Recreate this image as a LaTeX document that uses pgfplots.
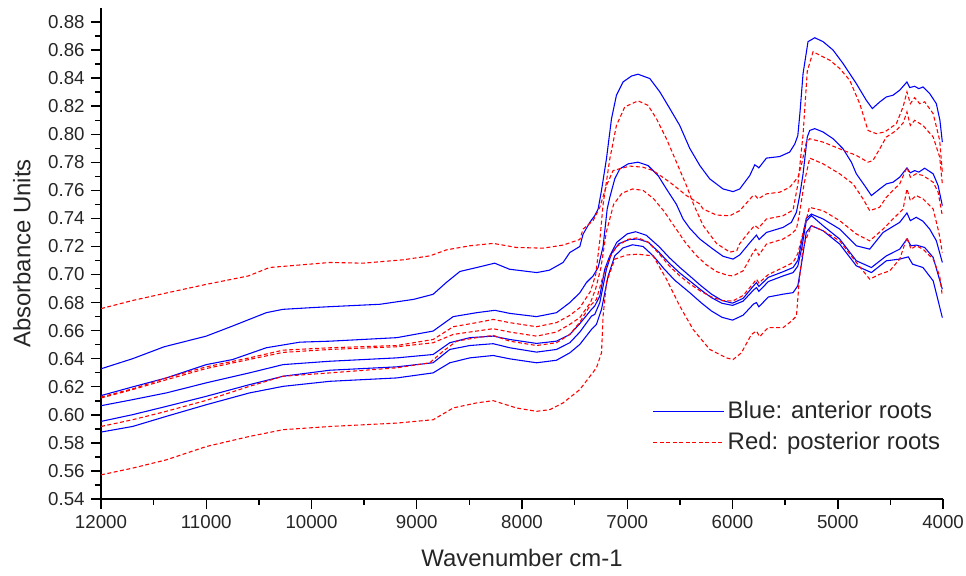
\documentclass[border=0pt]{standalone}
\usepackage{fontspec}
\setmainfont{Liberation Sans}
\usepackage{pgfplots}
\pgfplotsset{compat=1.18}
\begin{document}
\begin{tikzpicture}
\begin{axis}[
  at={(0,0)}, anchor=south west,
  scale only axis, width=468.2pt, height=273pt,
  x dir=reverse,
  xmin=4000, xmax=12000, ymin=0.54, ymax=0.89,
  xtick={4000,5000,6000,7000,8000,9000,10000,11000,12000},
  ytick={0.54,0.56,0.58,0.60,0.62,0.64,0.66,0.68,0.70,0.72,0.74,0.76,0.78,0.80,0.82,0.84,0.86,0.88},
  minor x tick num=1, minor y tick num=1,
  scaled x ticks=false,
  axis x line*=bottom, axis y line*=left,
  axis line style={-, black, line width=0.8pt},
  tick style={black, line width=0.8pt},
  tick align=outside,
  major tick length=5.6pt, minor tick length=3.3pt,
  xticklabel style={/pgf/number format/1000 sep={}},
  yticklabel style={/pgf/number format/.cd, fixed, fixed zerofill, precision=2},
  /pgf/number format/assume math mode=true,
  tick label style={font=\fontsize{10.4}{12}\selectfont, text=black!85},
  label style={font=\fontsize{13.3}{16}\selectfont, text=black!85},
  xlabel={Wavenumber cm-1}, ylabel={Absorbance Units},
  xlabel style={at={(axis description cs:0.5,-0.1202)}, anchor=center},
  ylabel style={at={(axis description cs:-0.094,0.5)}, anchor=center},
  blueline/.style={blue, line width=0.6pt},
  redline/.style={red, line width=0.6pt, dash pattern=on 2.2pt off 1.4pt},
  legend style={at={(0.655,0.207)}, anchor=north west, draw=none, fill=none,
    font=\fontsize{13.3}{16}\selectfont, inner sep=0pt, row sep=2pt,
    cells={anchor=west}},
  legend image code/.code={\draw[#1] (0pt,0pt) -- (36pt,0pt); \path (0pt,0pt) -- (39pt,0pt);},
]
% B1
\addplot[blueline, forget plot] coordinates {
(12000,0.6328) (11700,0.6400) (11400,0.6485) (11000,0.6561) (10750,0.6633) (10430,0.6728)
(10270,0.6752) (10000,0.6764) (9825,0.6771) (9350,0.6788) (9030,0.6823) (8845,0.6859)
(8720,0.6943) (8590,0.7022) (8430,0.7050) (8260,0.7081) (8120,0.7038) (7860,0.7014)
(7740,0.7031) (7610,0.7086) (7546,0.7157) (7451,0.7200) (7420,0.7288) (7356,0.7372)
(7309,0.7420) (7277,0.7467) (7245,0.7600) (7198,0.7825) (7150,0.8111) (7103,0.8278)
(7040,0.8373) (6960,0.8415) (6898,0.8428) (6786,0.8397) (6691,0.8302) (6596,0.8183)
(6502,0.8063) (6407,0.7900) (6311,0.7777) (6217,0.7682) (6090,0.7610) (5995,0.7591)
(5932,0.7610) (5837,0.7705) (5789,0.7782) (5765,0.7770) (5751,0.7760) (5678,0.7830)
(5552,0.7841) (5457,0.7873) (5409,0.7930) (5380,0.7990) (5360,0.8150) (5330,0.8433)
(5283,0.8660) (5219,0.8688) (5140,0.8660) (5045,0.8600) (4950,0.8504) (4824,0.8361)
(4729,0.8242) (4672,0.8183) (4602,0.8230) (4539,0.8266) (4476,0.8278) (4412,0.8314)
(4343,0.8373) (4317,0.8333) (4270,0.8342) (4230,0.8325) (4191,0.8337) (4127,0.8290)
(4064,0.8218) (4030,0.8100) (4007,0.7944)};
% B2
\addplot[blueline, forget plot] coordinates {
(12000,0.6137) (11700,0.6199) (11380,0.6263) (11000,0.6358) (10750,0.6394) (10430,0.6478)
(10110,0.6518) (9825,0.6525) (9190,0.6550) (8845,0.6597) (8654,0.6700) (8432,0.6728)
(8258,0.6745) (8116,0.6723) (7862,0.6700) (7673,0.6728) (7546,0.6800) (7451,0.6870)
(7388,0.6943) (7325,0.6990) (7277,0.7050) (7230,0.7200) (7191,0.7467) (7166,0.7550)
(7119,0.7682) (7071,0.7753) (6992,0.7789) (6898,0.7801) (6803,0.7777) (6707,0.7705)
(6628,0.7610) (6533,0.7500) (6470,0.7396) (6407,0.7330) (6311,0.7253) (6185,0.7181)
(6090,0.7130) (5995,0.7110) (5932,0.7140) (5821,0.7240) (5773,0.7281) (5748,0.7250)
(5678,0.7300) (5520,0.7336) (5441,0.7372) (5393,0.7444) (5362,0.7563) (5330,0.7718)
(5290,0.7980) (5267,0.8027) (5219,0.8040) (5140,0.8016) (5045,0.7968) (4950,0.7896)
(4871,0.7801) (4824,0.7718) (4745,0.7634) (4681,0.7563) (4602,0.7610) (4539,0.7646)
(4476,0.7658) (4412,0.7694) (4343,0.7760) (4311,0.7725) (4270,0.7741) (4230,0.7730)
(4175,0.7758) (4094,0.7718) (4047,0.7634) (4007,0.7491)};
% B3
\addplot[blueline, forget plot] coordinates {
(12000,0.6065) (11700,0.6108) (11380,0.6156) (11000,0.6228) (10590,0.6299) (10270,0.6358)
(9825,0.6382) (9190,0.6406) (8845,0.6430) (8686,0.6514) (8496,0.6550) (8274,0.6561)
(8116,0.6537) (7862,0.6509) (7673,0.6525) (7546,0.6573) (7451,0.6650) (7340,0.6752)
(7309,0.6776) (7261,0.6847) (7214,0.7038) (7166,0.7133) (7100,0.7230) (7000,0.7290)
(6920,0.7305) (6820,0.7280) (6700,0.7200) (6600,0.7120) (6500,0.7050) (6407,0.6990)
(6300,0.6920) (6200,0.6860) (6100,0.6815) (6000,0.6796) (5900,0.6830) (5800,0.6920)
(5773,0.6943) (5750,0.6915) (5660,0.6980) (5520,0.7020) (5425,0.7050) (5380,0.7100)
(5340,0.7250) (5300,0.7400) (5251,0.7431) (5140,0.7396) (4982,0.7324) (4824,0.7205)
(4697,0.7181) (4570,0.7300) (4412,0.7372) (4343,0.7439) (4311,0.7384) (4255,0.7408)
(4191,0.7380) (4127,0.7324) (4064,0.7241) (4007,0.7086)};
% B4
\addplot[blueline, forget plot] coordinates {
(12000,0.5953) (11700,0.6001) (11380,0.6060) (11000,0.6132) (10590,0.6215) (10270,0.6275)
(9825,0.6318) (9190,0.6342) (8845,0.6371) (8686,0.6466) (8496,0.6494) (8274,0.6507)
(8116,0.6478) (7862,0.6447) (7673,0.6466) (7546,0.6514) (7451,0.6590) (7340,0.6704)
(7309,0.6716) (7261,0.6800) (7198,0.7038) (7150,0.7150) (7080,0.7220) (6980,0.7250)
(6900,0.7253) (6800,0.7230) (6700,0.7160) (6600,0.7080) (6500,0.7010) (6407,0.6955)
(6300,0.6890) (6200,0.6835) (6100,0.6795) (6000,0.6780) (5900,0.6810) (5800,0.6890)
(5773,0.6907) (5750,0.6880) (5660,0.6950) (5520,0.6990) (5425,0.7014) (5380,0.7060)
(5340,0.7200) (5300,0.7380) (5251,0.7420) (5140,0.7348) (4982,0.7253) (4824,0.7098)
(4681,0.7050) (4539,0.7133) (4412,0.7181) (4343,0.7253) (4305,0.7205) (4255,0.7210)
(4175,0.7193) (4094,0.7122) (4007,0.6895)};
% B5
\addplot[blueline, forget plot] coordinates {
(12000,0.5877) (11700,0.5917) (11380,0.5989) (11000,0.6072) (10590,0.6156) (10270,0.6203)
(9825,0.6239) (9190,0.6263) (8845,0.6299) (8686,0.6371) (8496,0.6406) (8274,0.6423)
(8116,0.6399) (7862,0.6371) (7673,0.6389) (7546,0.6442) (7451,0.6502) (7340,0.6609)
(7293,0.6645) (7245,0.6752) (7182,0.6990) (7119,0.7133) (7040,0.7190) (6950,0.7212)
(6850,0.7200) (6750,0.7130) (6650,0.7040) (6550,0.6960) (6407,0.6871) (6300,0.6800)
(6200,0.6740) (6100,0.6695) (6000,0.6675) (5900,0.6710) (5800,0.6790) (5773,0.6800)
(5750,0.6770) (5660,0.6840) (5520,0.6860) (5425,0.6871) (5380,0.6920) (5340,0.7100)
(5300,0.7300) (5251,0.7348) (5140,0.7312) (4982,0.7217) (4824,0.7062) (4681,0.7014)
(4539,0.7098) (4412,0.7110) (4330,0.7126) (4290,0.7074) (4191,0.7050) (4094,0.6955)
(4007,0.6693)};
% R1
\addplot[redline, forget plot] coordinates {
(12000,0.6757) (11700,0.6815) (11400,0.6865) (11000,0.6930) (10600,0.6990) (10400,0.7050)
(10000,0.7075) (9825,0.7086) (9510,0.7081) (9130,0.7105) (8876,0.7133) (8717,0.7176)
(8496,0.7205) (8274,0.7222) (8053,0.7193) (7800,0.7188) (7610,0.7210) (7451,0.7250)
(7420,0.7324) (7325,0.7384) (7261,0.7480) (7198,0.7634) (7135,0.7741) (6977,0.7773)
(6850,0.7765) (6755,0.7741) (6596,0.7658) (6438,0.7563) (6311,0.7503) (6280,0.7467)
(6153,0.7424) (6026,0.7419) (5932,0.7455) (5805,0.7563) (5780,0.7560) (5758,0.7539)
(5678,0.7575) (5552,0.7587) (5457,0.7622) (5378,0.7694) (5340,0.7800) (5300,0.7940)
(5267,0.7968) (5140,0.7944) (4982,0.7896) (4824,0.7849) (4713,0.7801) (4666,0.7813)
(4602,0.7896) (4539,0.7980) (4444,0.8027) (4380,0.8080) (4343,0.8159) (4311,0.8063)
(4270,0.8099) (4191,0.8063) (4094,0.7980) (4032,0.7837) (4007,0.7646)};
% R2
\addplot[redline, forget plot] coordinates {
(12000,0.6127) (11700,0.6185) (11380,0.6263) (11000,0.6342) (10590,0.6406) (10270,0.6461)
(9825,0.6478) (9190,0.6494) (8844,0.6537) (8654,0.6628) (8432,0.6657) (8274,0.6680)
(8116,0.6657) (7862,0.6628) (7673,0.6657) (7546,0.6709) (7451,0.6764) (7350,0.6880)
(7300,0.7000) (7260,0.7250) (7230,0.7500) (7166,0.7825) (7103,0.8063) (7024,0.8195)
(6898,0.8238) (6803,0.8206) (6723,0.8111) (6628,0.7968) (6533,0.7801) (6438,0.7634)
(6370,0.7500) (6280,0.7350) (6150,0.7220) (6026,0.7160) (5960,0.7170) (5932,0.7220)
(5837,0.7310) (5789,0.7350) (5755,0.7330) (5678,0.7396) (5520,0.7419) (5425,0.7460)
(5378,0.7650) (5330,0.8000) (5290,0.8450) (5235,0.8588) (5077,0.8528) (4982,0.8469)
(4887,0.8385) (4792,0.8218) (4713,0.8027) (4634,0.8004) (4555,0.8016) (4444,0.8075)
(4380,0.8195) (4343,0.8302) (4311,0.8218) (4270,0.8261) (4222,0.8218) (4175,0.8231)
(4094,0.8147) (4032,0.7956) (4007,0.7730)};
% R3
\addplot[redline, forget plot] coordinates {
(12000,0.6120) (11700,0.6180) (11380,0.6250) (11000,0.6330) (10590,0.6395) (10270,0.6445)
(9825,0.6466) (9192,0.6485) (8844,0.6514) (8654,0.6573) (8432,0.6597) (8274,0.6614)
(8116,0.6590) (7862,0.6561) (7673,0.6590) (7546,0.6645) (7451,0.6693) (7350,0.6800)
(7300,0.6900) (7250,0.7050) (7200,0.7300) (7130,0.7500) (7050,0.7580) (6950,0.7610)
(6850,0.7600) (6750,0.7540) (6650,0.7450) (6550,0.7340) (6450,0.7230) (6350,0.7140)
(6250,0.7070) (6150,0.7020) (6050,0.6995) (5995,0.6990) (5900,0.7026) (5805,0.7157)
(5780,0.7181) (5750,0.7138) (5678,0.7217) (5520,0.7253) (5441,0.7289) (5393,0.7324)
(5362,0.7444) (5320,0.7650) (5267,0.7830) (5140,0.7789) (4982,0.7718) (4855,0.7646)
(4760,0.7539) (4697,0.7455) (4602,0.7480) (4539,0.7551) (4476,0.7600) (4412,0.7646)
(4343,0.7765) (4311,0.7694) (4255,0.7718) (4191,0.7706) (4094,0.7658) (4047,0.7587)
(4007,0.7419)};
% R4
\addplot[redline, forget plot] coordinates {
(12000,0.5917) (11700,0.5965) (11380,0.6025) (11000,0.6103) (10590,0.6203) (10270,0.6275)
(9825,0.6299) (9192,0.6335) (8876,0.6371) (8749,0.6454) (8622,0.6525) (8432,0.6550)
(8274,0.6566) (8116,0.6525) (7862,0.6494) (7673,0.6514) (7546,0.6573) (7451,0.6660)
(7356,0.6776) (7293,0.6823) (7230,0.6990) (7170,0.7120) (7100,0.7200) (7000,0.7250)
(6900,0.7262) (6800,0.7230) (6700,0.7150) (6600,0.7060) (6500,0.6990) (6400,0.6930)
(6300,0.6880) (6200,0.6840) (6100,0.6815) (6000,0.6811) (5900,0.6850) (5800,0.6940)
(5773,0.6967) (5750,0.6940) (5660,0.7000) (5520,0.7050) (5425,0.7086) (5380,0.7150)
(5330,0.7300) (5270,0.7479) (5140,0.7455) (4982,0.7384) (4824,0.7289) (4697,0.7240)
(4570,0.7324) (4476,0.7396) (4380,0.7467) (4343,0.7610) (4311,0.7527) (4255,0.7563)
(4191,0.7539) (4094,0.7467) (4040,0.7300) (4007,0.7157)};
% R5
\addplot[redline, forget plot] coordinates {
(12000,0.5572) (11700,0.5620) (11380,0.5679) (11000,0.5774) (10590,0.5846) (10270,0.5894)
(9825,0.5917) (9192,0.5941) (8844,0.5965) (8654,0.6049) (8432,0.6085) (8274,0.6101)
(8053,0.6049) (7862,0.6025) (7736,0.6037) (7610,0.6085) (7451,0.6180) (7293,0.6335)
(7245,0.6442) (7230,0.6704) (7198,0.6943) (7119,0.7110) (7000,0.7140) (6900,0.7145)
(6755,0.7133) (6628,0.6967) (6502,0.6776) (6375,0.6609) (6217,0.6466) (6058,0.6406)
(5995,0.6394) (5916,0.6442) (5821,0.6573) (5773,0.6597) (5742,0.6557) (5663,0.6621)
(5520,0.6621) (5441,0.6668) (5393,0.6704) (5368,0.6943) (5330,0.7200) (5251,0.7348)
(5140,0.7312) (4982,0.7240) (4824,0.7086) (4697,0.6967) (4602,0.7002) (4507,0.7026)
(4412,0.7110) (4343,0.7265) (4305,0.7181) (4255,0.7205) (4191,0.7181) (4094,0.7110)
(4032,0.6990) (4007,0.6847)};
\addlegendimage{blueline}
\addlegendentry{\textcolor{black!85}{Blue: anterior roots}}
\addlegendimage{redline}
\addlegendentry{\textcolor{black!85}{Red: posterior roots}}
\end{axis}
\pgfresetboundingbox
\path (-56.16pt,-42.26pt) rectangle (480.94pt,277.44pt);
\end{tikzpicture}
\end{document}
